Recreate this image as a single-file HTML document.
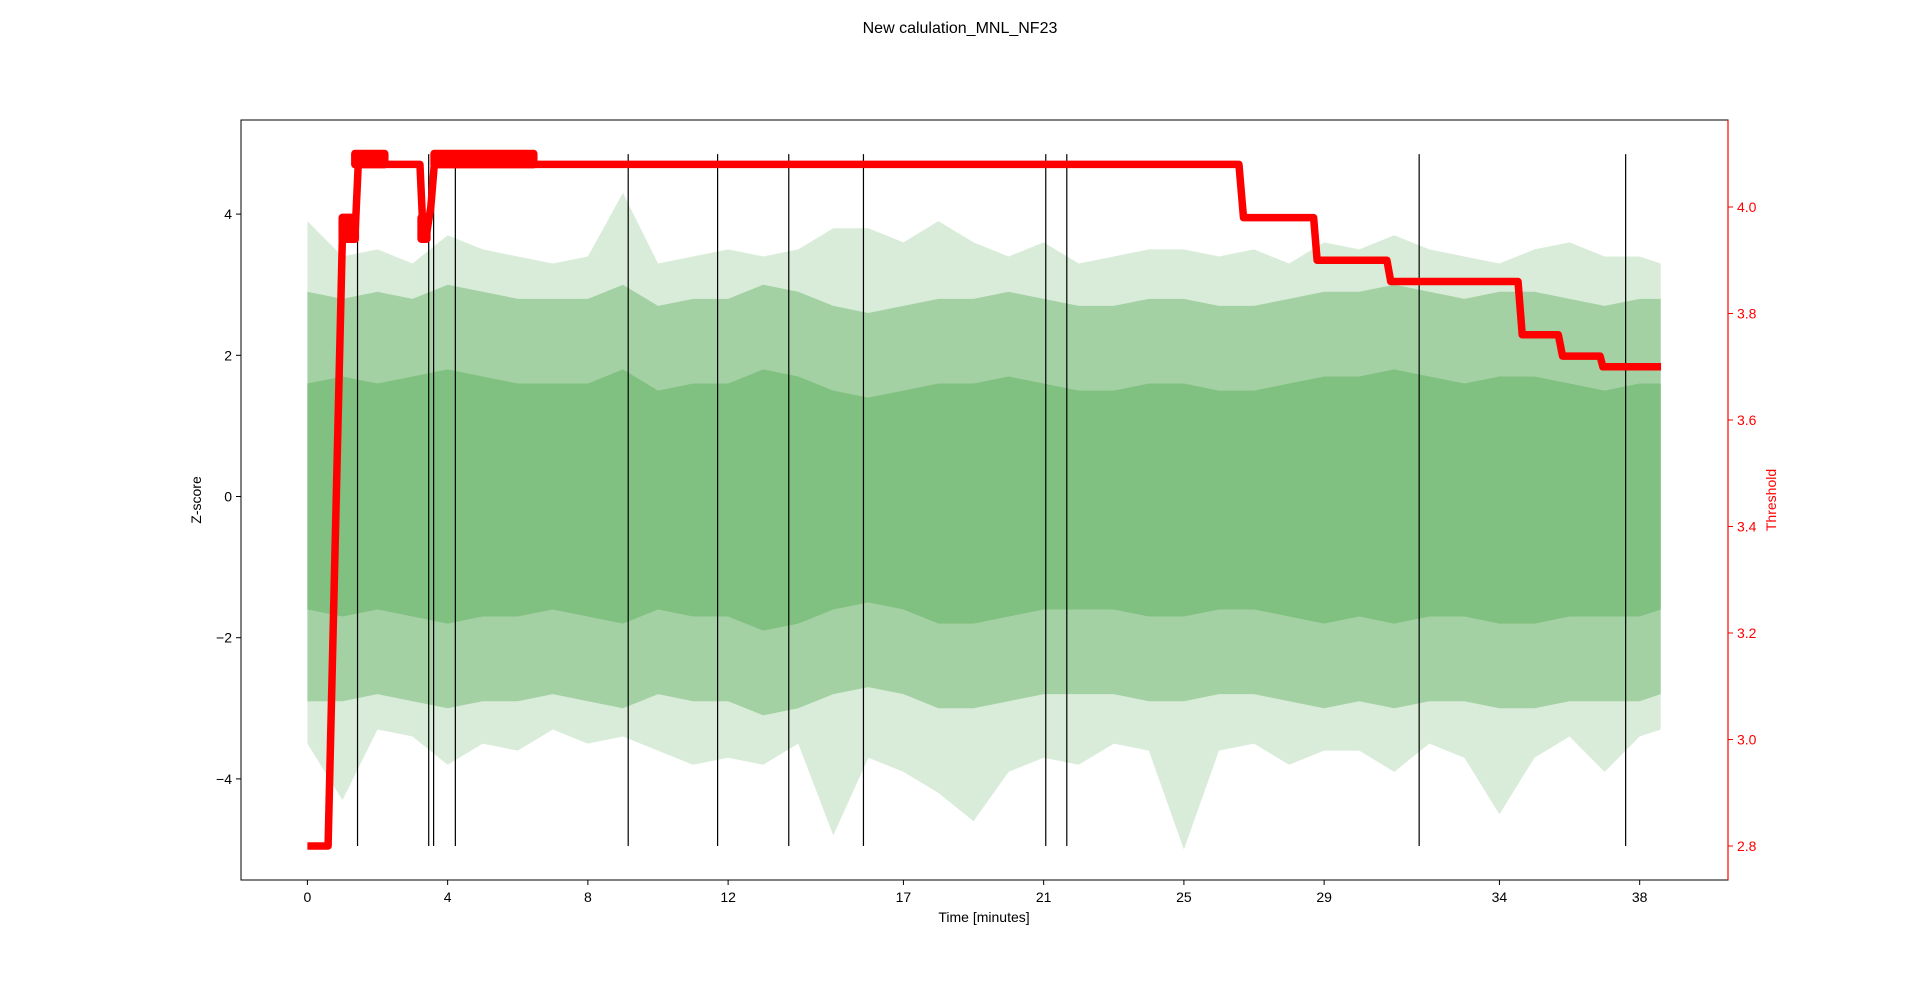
<!DOCTYPE html>
<html><head><meta charset="utf-8"><style>
html,body{margin:0;padding:0;background:#fff;}
svg{display:block;font-family:"Liberation Sans","DejaVu Sans",sans-serif;}
</style></head><body>
<svg id="chart" width="1920" height="990" viewBox="0 0 1920 990" xmlns="http://www.w3.org/2000/svg">
<text x="960" y="33" font-size="16" text-anchor="middle">New calulation_MNL_NF23</text>
<g id="plot"></g>
<text x="984" y="922" font-size="14" text-anchor="middle">Time [minutes]</text>
<text transform="translate(201,500) rotate(-90)" font-size="14" text-anchor="middle">Z-score</text>
<text transform="translate(1776,500) rotate(-90)" font-size="14" text-anchor="middle" fill="red">Threshold</text>
</svg>
<script>
// ---- data ----
const xTicks = [0,4,8,12,17,21,25,29,34,38];
const zTicks = [-4,-2,0,2,4];
const thrTicks = [2.8,3.0,3.2,3.4,3.6,3.8,4.0];
const envTime = [0,1,2,3,4,5,6,7,8,9,10,11,12,13,14,15,16,17,18,19,20,21,22,23,24,25,26,27,28,29,30,31,32,33,34,35,36,37,38,38.6];
const envMax = [3.9,3.4,3.5,3.3,3.7,3.5,3.4,3.3,3.4,4.3,3.3,3.4,3.5,3.4,3.5,3.8,3.8,3.6,3.9,3.6,3.4,3.6,3.3,3.4,3.5,3.5,3.4,3.5,3.3,3.6,3.5,3.7,3.5,3.4,3.3,3.5,3.6,3.4,3.4,3.3];
const envMin = [-3.5,-4.3,-3.3,-3.4,-3.8,-3.5,-3.6,-3.3,-3.5,-3.4,-3.6,-3.8,-3.7,-3.8,-3.5,-4.8,-3.7,-3.9,-4.2,-4.6,-3.9,-3.7,-3.8,-3.5,-3.6,-5.0,-3.6,-3.5,-3.8,-3.6,-3.6,-3.9,-3.5,-3.7,-4.5,-3.7,-3.4,-3.9,-3.4,-3.3];
const midMax = [2.9,2.8,2.9,2.8,3.0,2.9,2.8,2.8,2.8,3.0,2.7,2.8,2.8,3.0,2.9,2.7,2.6,2.7,2.8,2.8,2.9,2.8,2.7,2.7,2.8,2.8,2.7,2.7,2.8,2.9,2.9,3.0,2.9,2.8,2.9,2.9,2.8,2.7,2.8,2.8];
const midMin = [-2.9,-2.9,-2.8,-2.9,-3.0,-2.9,-2.9,-2.8,-2.9,-3.0,-2.8,-2.9,-2.9,-3.1,-3.0,-2.8,-2.7,-2.8,-3.0,-3.0,-2.9,-2.8,-2.8,-2.8,-2.9,-2.9,-2.8,-2.8,-2.9,-3.0,-2.9,-3.0,-2.9,-2.9,-3.0,-3.0,-2.9,-2.9,-2.9,-2.8];
const coreMax = [1.6,1.7,1.6,1.7,1.8,1.7,1.6,1.6,1.6,1.8,1.5,1.6,1.6,1.8,1.7,1.5,1.4,1.5,1.6,1.6,1.7,1.6,1.5,1.5,1.6,1.6,1.5,1.5,1.6,1.7,1.7,1.8,1.7,1.6,1.7,1.7,1.6,1.5,1.6,1.6];
const coreMin = [-1.6,-1.7,-1.6,-1.7,-1.8,-1.7,-1.7,-1.6,-1.7,-1.8,-1.6,-1.7,-1.7,-1.9,-1.8,-1.6,-1.5,-1.6,-1.8,-1.8,-1.7,-1.6,-1.6,-1.6,-1.7,-1.7,-1.6,-1.6,-1.7,-1.8,-1.7,-1.8,-1.7,-1.7,-1.8,-1.8,-1.7,-1.7,-1.7,-1.6];
const eventTimes = [1.43,3.46,3.60,4.22,9.15,11.70,13.73,15.86,21.06,21.66,31.71,37.6];
const eventTop = 4.85, eventBottom = -4.95;
const thrTime = [0,0.59,1.0,1.36,1.45,3.21,3.30,3.40,3.52,3.62,26.57,26.7,28.7,28.8,30.79,30.9,34.53,34.65,35.68,35.8,36.87,36.95,38.61];
const thrVal  = [2.8,2.8,3.95,3.95,4.08,4.08,3.95,3.95,4.0,4.08,4.08,3.98,3.98,3.90,3.90,3.86,3.86,3.76,3.76,3.72,3.72,3.70,3.70];
const bandStart = [1.0,1.36,3.25,3.62];
const bandEnd   = [1.36,2.2,3.40,6.45];
const bandLow   = [3.94,4.08,3.94,4.08];
const bandHigh  = [3.98,4.10,3.98,4.10];

// ---- axes ----
const L=241,R=1728,T=120,B=880;
const X = m => 307.4 + m*35.06;
const YZ = z => 496.5 - z*70.6;
const YT = t => 207 - (t-4.0)*532.5;
const NS="http://www.w3.org/2000/svg";
const plot=document.getElementById('plot');
function mk(tag,attrs,parent){const e=document.createElementNS(NS,tag);for(const k in attrs)e.setAttribute(k,attrs[k]);(parent||plot).appendChild(e);return e;}

const clip=mk('clipPath',{id:'clip'});mk('rect',{x:L,y:T,width:R-L,height:B-T},clip);
const g=mk('g',{'clip-path':'url(#clip)'});

function band(hi,lo,fill,op,name){
  let pts=[];
  for(let i=0;i<envTime.length;i++)pts.push(X(envTime[i])+','+YZ(hi[i]));
  for(let i=envTime.length-1;i>=0;i--)pts.push(X(envTime[i])+','+YZ(lo[i]));
  const p=mk('polygon',{points:pts.join(' '),fill:fill,'fill-opacity':op},g);
  
  
}
band(envMax,envMin,'#80c080',0.3,'zscore-outer-envelope');
band(midMax,midMin,'#80c080',0.6,'zscore-mid-band');
band(coreMax,coreMin,'#80c080',1,'zscore-core-band');

eventTimes.forEach(t=>{
  const l=mk('line',{x1:X(t),x2:X(t),y1:YZ(eventTop),y2:YZ(eventBottom),stroke:'#000','stroke-width':1.2},g);
  
  
});

bandStart.forEach((s,i)=>{
  const r=mk('rect',{x:X(s)-4,y:YT(bandHigh[i])-4,width:X(bandEnd[i])-X(s)+8,height:YT(bandLow[i])-YT(bandHigh[i])+8,fill:'red',rx:4},g);
  
  
});
const tl=mk('polyline',{points:thrTime.map((t,i)=>X(t)+','+YT(thrVal[i])).join(' '),fill:'none',stroke:'red','stroke-width':7.5,'stroke-linejoin':'round'},g);



const fr=mk('rect',{x:L,y:T,width:R-L,height:B-T,fill:'none',stroke:'#000','stroke-width':1});


mk('line',{x1:R,x2:R,y1:T,y2:B,stroke:'red','stroke-width':1.2});

xTicks.forEach(v=>{
  const x=X(v);
  mk('line',{x1:x,x2:x,y1:B,y2:B+5,stroke:'#000'});
  const t=mk('text',{x:x,y:B+22,'font-size':14,'text-anchor':'middle'});t.textContent=v;
  
  
});
zTicks.forEach(v=>{
  const y=YZ(v);
  mk('line',{x1:L-5,x2:L,y1:y,y2:y,stroke:'#000'});
  const t=mk('text',{x:L-9,y:y+5,'font-size':14,'text-anchor':'end'});t.textContent=(v<0?'\u2212'+(-v):v);
  
  
});
thrTicks.forEach(v=>{
  const y=YT(v);
  mk('line',{x1:R,x2:R+5,y1:y,y2:y,stroke:'red'});
  const t=mk('text',{x:R+9,y:y+5,'font-size':14,fill:'red'});t.textContent=v.toFixed(1);
  
  
});
</script>
</body></html>
